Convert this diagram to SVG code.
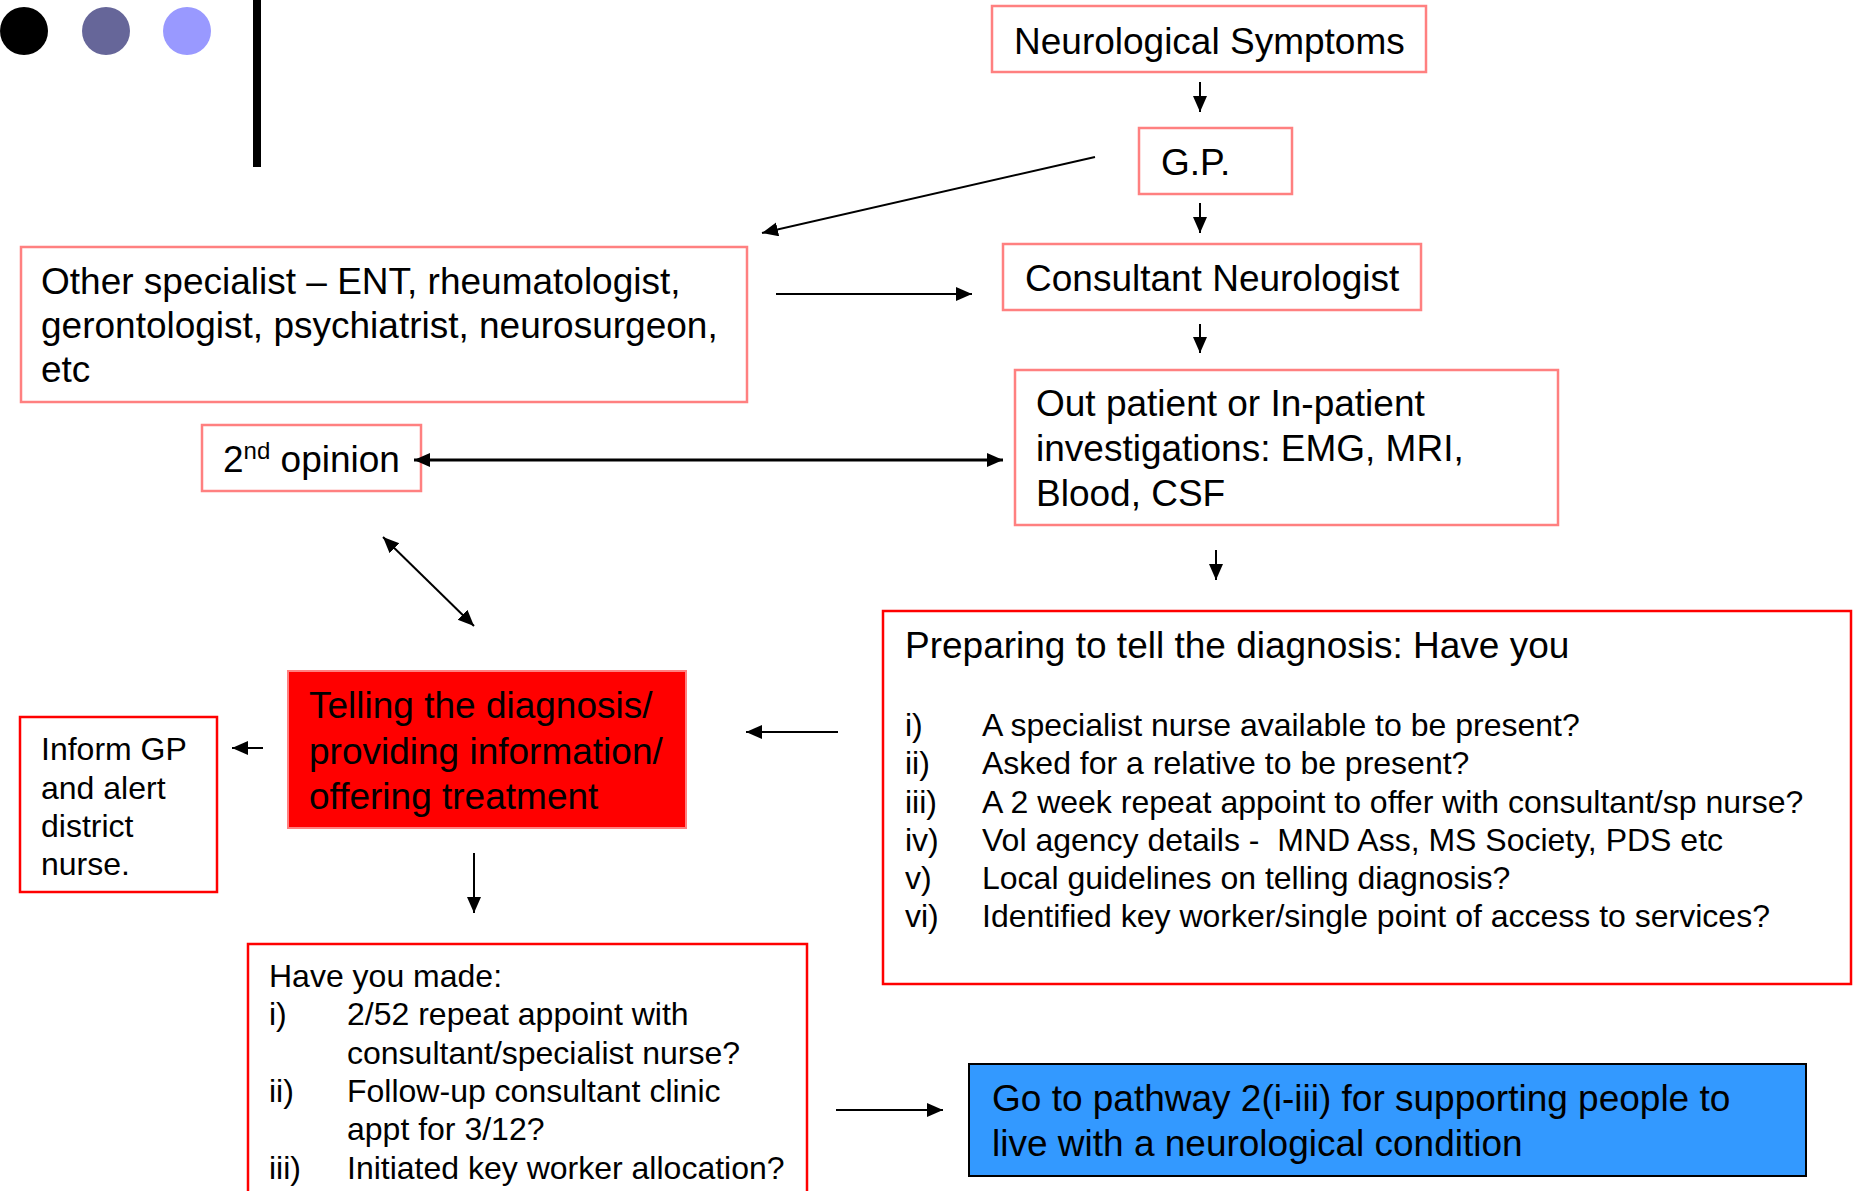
<svg xmlns="http://www.w3.org/2000/svg" width="1855" height="1191" viewBox="0 0 1855 1191">
<style>
text{font-family:"Liberation Sans",Arial,sans-serif;fill:#000}
.big{font-size:37px}
.sm{font-size:32px}
.pink{fill:#fff;stroke:#FF8080;stroke-width:2.5}
.red{fill:#fff;stroke:#FF0000;stroke-width:2.5}
.con line{stroke:#000;stroke-width:2;marker-end:url(#ah)}
.con line.both{marker-start:url(#ah)}
</style>
<defs>
<marker id="ah" markerUnits="userSpaceOnUse" markerWidth="18" markerHeight="16" refX="16" refY="7" orient="auto-start-reverse">
<path d="M0,0 L16,7 L0,14 z" fill="#000"/>
</marker>
</defs>
<rect width="1855" height="1191" fill="#fff"/>
<g id="decor">
<circle cx="24" cy="31" r="24" fill="#000"/>
<circle cx="106" cy="31" r="24" fill="#666699"/>
<circle cx="187" cy="31" r="24" fill="#9999FF"/>
<rect x="253" y="0" width="8" height="167" fill="#000"/>
</g>
<g id="neuro">
<rect class="pink" x="992" y="6" width="434" height="66"/>
<text class="big" x="1014" y="54">Neurological Symptoms</text>
</g>
<g id="gp">
<rect class="pink" x="1139" y="128" width="153" height="66"/>
<text class="big" x="1161" y="175">G.P.</text>
</g>
<g id="consultant">
<rect class="pink" x="1003" y="244" width="418" height="66"/>
<text class="big" x="1025" y="291">Consultant Neurologist</text>
</g>
<g id="other">
<rect class="pink" x="21" y="247" width="726" height="155"/>
<text class="big" x="41" y="294">Other specialist – ENT, rheumatologist,</text>
<text class="big" x="41" y="338">gerontologist, psychiatrist, neurosurgeon,</text>
<text class="big" x="41" y="382">etc</text>
</g>
<g id="outpatient">
<rect class="pink" x="1015" y="370" width="543" height="155"/>
<text class="big" x="1036" y="416">Out patient or In-patient</text>
<text class="big" x="1036" y="461">investigations: EMG, MRI,</text>
<text class="big" x="1036" y="506">Blood, CSF</text>
</g>
<g id="second">
<rect class="pink" x="202" y="425" width="219" height="66"/>
<text class="big" x="223" y="472">2<tspan font-size="24" dy="-13">nd</tspan><tspan dy="13"> opinion</tspan></text>
</g>
<g id="telling">
<rect x="288" y="671" width="398" height="157" fill="#FF0000" stroke="#FF8080" stroke-width="2"/>
<text class="big" x="309" y="718">Telling the diagnosis/</text>
<text class="big" x="309" y="764">providing information/</text>
<text class="big" x="309" y="809">offering treatment</text>
</g>
<g id="inform">
<rect class="red" x="20" y="717" width="197" height="175"/>
<text class="sm" x="41" y="760">Inform GP</text>
<text class="sm" x="41" y="799">and alert</text>
<text class="sm" x="41" y="837">district</text>
<text class="sm" x="41" y="875">nurse.</text>
</g>
<g id="preparing">
<rect class="red" x="883" y="611" width="968" height="373"/>
<text class="big" x="905" y="658">Preparing to tell the diagnosis: Have you</text>
<text class="sm" x="905" y="736">i)</text><text class="sm" x="982" y="736">A specialist nurse available to be present?</text>
<text class="sm" x="905" y="774">ii)</text><text class="sm" x="982" y="774">Asked for a relative to be present?</text>
<text class="sm" x="905" y="813">iii)</text><text class="sm" x="982" y="813">A 2 week repeat appoint to offer with consultant/sp nurse?</text>
<text class="sm" x="905" y="851">iv)</text><text class="sm" x="982" y="851" xml:space="preserve">Vol agency details -  MND Ass, MS Society, PDS etc</text>
<text class="sm" x="905" y="889">v)</text><text class="sm" x="982" y="889">Local guidelines on telling diagnosis?</text>
<text class="sm" x="905" y="927">vi)</text><text class="sm" x="982" y="927">Identified key worker/single point of access to services?</text>
</g>
<g id="havemade">
<rect class="red" x="248" y="944" width="559" height="260"/>
<text class="sm" x="269" y="987">Have you made:</text>
<text class="sm" x="269" y="1025">i)</text><text class="sm" x="347" y="1025">2/52 repeat appoint with</text>
<text class="sm" x="347" y="1064">consultant/specialist nurse?</text>
<text class="sm" x="269" y="1102">ii)</text><text class="sm" x="347" y="1102">Follow-up consultant clinic</text>
<text class="sm" x="347" y="1140">appt for 3/12?</text>
<text class="sm" x="269" y="1179">iii)</text><text class="sm" x="347" y="1179">Initiated key worker allocation?</text>
</g>
<g id="pathway">
<rect x="969" y="1064" width="837" height="112" fill="#3399FF" stroke="#000" stroke-width="2"/>
<text class="big" x="992" y="1111">Go to pathway 2(i-iii) for supporting people to</text>
<text class="big" x="992" y="1156">live with a neurological condition</text>
</g>
<g id="connectors" class="con">
<line x1="1200" y1="82" x2="1200" y2="112"/>
<line x1="1200" y1="203" x2="1200" y2="233"/>
<line x1="1200" y1="324" x2="1200" y2="353"/>
<line x1="1095" y1="157" x2="762" y2="233"/>
<line x1="776" y1="294" x2="972" y2="294"/>
<line class="both" x1="1003" y1="460" x2="414" y2="460" style="stroke-width:3"/>
<line class="both" x1="383" y1="537" x2="474" y2="626"/>
<line x1="1216" y1="550" x2="1216" y2="580"/>
<line x1="838" y1="732" x2="746" y2="732"/>
<line x1="263" y1="748" x2="232" y2="748"/>
<line x1="474" y1="853" x2="474" y2="913"/>
<line x1="836" y1="1110" x2="943" y2="1110"/>
</g>
</svg>
